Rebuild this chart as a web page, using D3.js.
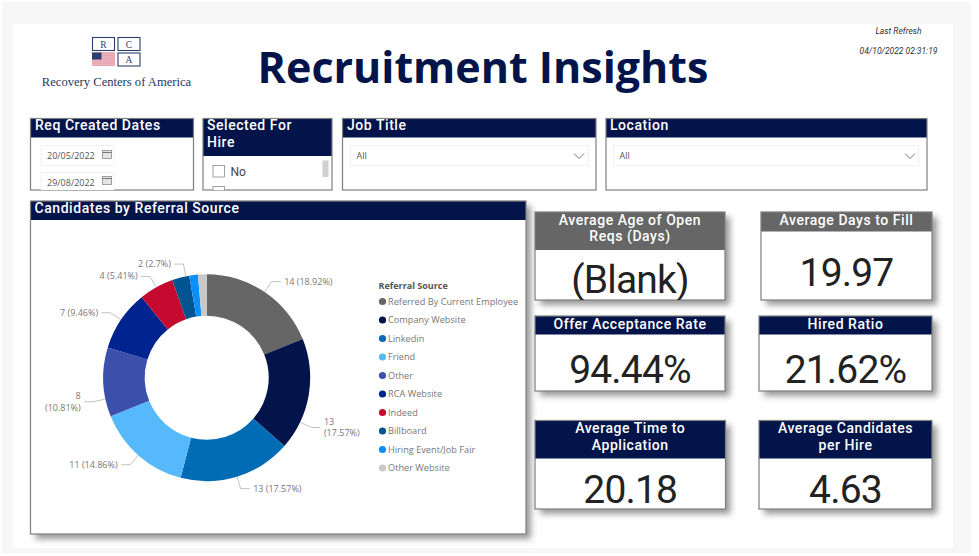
<!DOCTYPE html>
<html>
<head>
<meta charset="utf-8">
<script src="https://cdnjs.cloudflare.com/ajax/libs/d3/7.8.5/d3.min.js"></script>
<style>
html, body { margin: 0; padding: 0; background: #fff; overflow: hidden; }
svg { display: block; }
</style>
</head>
<body>
<script>
const sources = ["Referred By Current Employee", "Company Website", "Linkedin", "Friend", "Other", "RCA Website", "Indeed", "Billboard", "Hiring Event/Job Fair", "Other Website"]
const candidates = [14, 13, 13, 11, 8, 7, 4, 2, 1, 1]
const percents = ["18.92%", "17.57%", "17.57%", "14.86%", "10.81%", "9.46%", "5.41%", "2.7%", "1.35%", "1.35%"]
const sliceColors = ["#666666", "#03144a", "#006cb5", "#56b9fb", "#3b50ab", "#00248f", "#c40a2f", "#005590", "#0a8fff", "#c8c8c8"]

// power bi moves some leader lines off the slice centre (degrees), null = no label
const leaderShift = [0, 15.7, 0, 0, -9.5, 0, 0, 3, null, null]
const wrappedLabels = [false, true, false, false, true, false, false, false, false, false]

const kpiTitles = [["Average Age of Open", "Reqs (Days)"], ["Average Days to Fill"], ["Offer Acceptance Rate"], ["Hired Ratio"], ["Average Time to", "Application"], ["Average Candidates", "per Hire"]]
const kpiValues = ["(Blank)", "19.97", "94.44%", "21.62%", "20.18", "4.63"]

const navy = "#03144a"
const din = "Roboto, sans-serif"

const svg = d3.select("body").append("svg").attr("width", 979).attr("height", 556)
const defs = svg.append("defs")

const shadow = defs.append("filter").attr("id", "shadow")
    .attr("x", "-10%").attr("y", "-10%").attr("width", "125%").attr("height", "125%")
shadow.append("feDropShadow").attr("dx", 5).attr("dy", 5).attr("stdDeviation", 3)
    .attr("flood-color", "#000").attr("flood-opacity", 0.4)

let clipCount = 0

// page background
svg.append("rect").attr("x", 2).attr("y", 2).attr("width", 969).attr("height", 551).attr("fill", "#f7f7f7")
svg.append("rect").attr("x", 13).attr("y", 24).attr("width", 940).attr("height", 524).attr("fill", "#fff")

function panel(x, y, w, h, headH, headColor, shadowed) {
    let g = svg.append("g")
    if (shadowed) {
        g.append("rect").attr("x", x).attr("y", y).attr("width", w).attr("height", h)
            .attr("fill", "#fff").attr("filter", "url(#shadow)")
    }
    g.append("rect").attr("x", x).attr("y", y).attr("width", w).attr("height", h).attr("fill", "#fff")
    g.append("rect").attr("x", x).attr("y", y).attr("width", w).attr("height", headH).attr("fill", headColor)
    g.append("rect").attr("x", x).attr("y", y).attr("width", w).attr("height", h)
        .attr("fill", "none").attr("stroke", "#7f7f7f").attr("stroke-width", 1.2)
    clipCount++
    defs.append("clipPath").attr("id", "clip" + clipCount)
        .append("rect").attr("x", x).attr("y", y).attr("width", w).attr("height", h)
    return g.append("g").attr("clip-path", "url(#clip" + clipCount + ")")
}

function headText(g, x, y, txt, anchor, size) {
    return g.append("text").attr("x", x).attr("y", y).attr("text-anchor", anchor || "start")
        .attr("font-family", din).attr("font-size", size || 14).attr("font-weight", 500)
        .attr("letter-spacing", 0.55).attr("fill", "#fff").text(txt)
}

function inputBox(g, x, y, w, h, txt) {
    g.append("rect").attr("x", x).attr("y", y).attr("width", w).attr("height", h)
        .attr("fill", "#fff").attr("stroke", "#f1f1f1").attr("stroke-width", 1)
    g.append("text").attr("x", x + 6).attr("y", y + h / 2 + 3.5)
        .attr("font-family", "'Open Sans', sans-serif").attr("font-size", 9).attr("fill", "#555").text(txt)
}

function calendar(g, x, y) {
    g.append("rect").attr("x", x).attr("y", y).attr("width", 9).attr("height", 8)
        .attr("fill", "#e4e4e4").attr("stroke", "#8a8a8a").attr("stroke-width", 0.8)
    g.append("line").attr("x1", x).attr("x2", x + 9).attr("y1", y + 2).attr("y2", y + 2)
        .attr("stroke", "#777").attr("stroke-width", 1.2)
}

function chevron(g, x, y) {
    let line = d3.line()
    g.append("path").attr("d", line([[x - 5, y - 2.5], [x, y + 2.5], [x + 5, y - 2.5]]))
        .attr("fill", "none").attr("stroke", "#666").attr("stroke-width", 0.9)
}

// logo
function logoBox(x, y, letter) {
    svg.append("rect").attr("x", x).attr("y", y).attr("width", 22).attr("height", 13)
        .attr("fill", "#fff").attr("stroke", "#2b3f6e").attr("stroke-width", 1.1)
    svg.append("text").attr("x", x + 11).attr("y", y + 10).attr("text-anchor", "middle")
        .attr("font-family", "'Liberation Serif', serif").attr("font-size", 9.5).attr("fill", "#2b3f6e").text(letter)
}
logoBox(92.5, 37.5, "R")
logoBox(118, 37.5, "C")
logoBox(118, 53, "A")
d3.range(7).forEach(i => {
    svg.append("rect").attr("x", 92).attr("y", 52.5 + i * 2).attr("width", 23).attr("height", 1.1).attr("fill", "#d9697f")
})
svg.append("rect").attr("x", 92).attr("y", 52.5).attr("width", 9.5).attr("height", 7).attr("fill", "#2b3f6e")
svg.append("text").attr("x", 116.5).attr("y", 86).attr("text-anchor", "middle")
    .attr("font-family", "'Liberation Serif', serif").attr("font-size", 12.6).attr("fill", "#26375f")
    .text("Recovery Centers of America")

// title
svg.append("text").attr("x", 483).attr("y", 83).attr("text-anchor", "middle")
    .attr("font-family", "'Open Sans', sans-serif").attr("font-size", 43).attr("font-weight", 700)
    .attr("fill", navy).text("Recruitment Insights")

svg.append("text").attr("x", 898.5).attr("y", 34).attr("text-anchor", "middle")
    .attr("font-family", "Roboto, sans-serif").attr("font-style", "italic").attr("font-size", 8.5)
    .attr("fill", "#333").text("Last Refresh")
svg.append("text").attr("x", 898.5).attr("y", 53.5).attr("text-anchor", "middle")
    .attr("font-family", "Roboto, sans-serif").attr("font-style", "italic").attr("font-size", 8.5)
    .attr("fill", "#333").text("04/10/2022 02:31:19")

// slicers
let dates = panel(30.5, 118.5, 163, 71.5, 19, navy)
headText(dates, 35, 130, "Req Created Dates")
inputBox(dates, 41, 145.5, 73, 20, "20/05/2022")
inputBox(dates, 41, 172.5, 73, 20, "29/08/2022")
calendar(dates, 102.5, 150.5)
calendar(dates, 102.5, 176.5)

let hire = panel(203, 118.5, 129, 71.5, 37.5, navy)
headText(hire, 207, 130, "Selected For")
headText(hire, 207, 146.5, "Hire")
hire.append("rect").attr("x", 213).attr("y", 165.5).attr("width", 11.5).attr("height", 11.5)
    .attr("fill", "#fff").attr("stroke", "#8a8a8a").attr("stroke-width", 0.8)
hire.append("rect").attr("x", 213).attr("y", 186.5).attr("width", 11.5).attr("height", 11.5)
    .attr("fill", "#fff").attr("stroke", "#8a8a8a").attr("stroke-width", 0.8)
hire.append("text").attr("x", 230.5).attr("y", 176).attr("font-family", din).attr("font-size", 12)
    .attr("fill", "#444").text("No")
hire.append("rect").attr("x", 322.5).attr("y", 160.5).attr("width", 6).attr("height", 16.5).attr("fill", "#d0d0d0")

let job = panel(342.5, 118.5, 253.5, 71.5, 19, navy)
headText(job, 347, 130, "Job Title")
inputBox(job, 350.5, 145.5, 238, 20, "All")
chevron(job, 579, 156)

let loc = panel(606, 118.5, 321, 71.5, 19, navy)
headText(loc, 610, 130, "Location")
inputBox(loc, 613.5, 145.5, 305, 20, "All")
chevron(loc, 910, 156)

// donut panel
let main = panel(30.5, 201, 495.5, 333, 19, navy, true)
headText(main, 34.5, 213, "Candidates by Referral Source")

const cx = 206.7, cy = 377.7
const outerR = 103.5, innerR = 62, elbowR = 116
const rad = Math.PI / 180

const pie = d3.pie().sort(null).value((d, i) => candidates[i])
const arc = d3.arc().innerRadius(innerR).outerRadius(outerR)
const slices = pie(sources)

const donut = main.append("g").attr("transform", `translate(${cx},${cy})`)
donut.selectAll("path").data(slices).enter().append("path")
    .attr("d", arc)
    .attr("fill", (d, i) => sliceColors[i])

const polar = (r, a) => [r * Math.sin(a), -r * Math.cos(a)]

slices.forEach((d, i) => {
    if (leaderShift[i] === null) return
    let a = (d.startAngle + d.endAngle) / 2 + leaderShift[i] * rad
    let p0 = polar(outerR, a)
    let p1 = polar(elbowR, a)
    let dir = Math.sin(a) > 0 ? 1 : -1
    let p2 = [p1[0] + dir * 9, p1[1]]
    donut.append("path").attr("d", d3.line()([p0, p1, p2]))
        .attr("fill", "none").attr("stroke", "#b3b3b3").attr("stroke-width", 0.8)

    let label = donut.append("text")
        .attr("text-anchor", dir > 0 ? "start" : "end")
        .attr("font-family", "'Open Sans', sans-serif").attr("font-size", 9)
        .attr("fill", "#777")
    let tx = p2[0] + dir * 3.5
    if (wrappedLabels[i]) {
        label.append("tspan").attr("x", tx).attr("y", p2[1] - 2.8).text(candidates[i])
        label.append("tspan").attr("x", tx).attr("y", p2[1] + 9).text(`(${percents[i]})`)
    } else {
        label.attr("x", tx).attr("y", p2[1] + 3).text(`${candidates[i]} (${percents[i]})`)
    }
})

// legend
const legendY = d3.scalePoint().domain(sources).range([301.5, 468])
main.append("text").attr("x", 378.5).attr("y", 289)
    .attr("font-family", "'Open Sans', sans-serif").attr("font-size", 9).attr("font-weight", 700)
    .attr("fill", "#555").text("Referral Source")
const legend = main.selectAll(".legend").data(sources).enter().append("g").attr("class", "legend")
legend.append("circle").attr("cx", 382.5).attr("cy", d => legendY(d)).attr("r", 3.6)
    .attr("fill", (d, i) => sliceColors[i])
legend.append("text").attr("x", 388).attr("y", d => legendY(d) + 3.2)
    .attr("font-family", "'Open Sans', sans-serif").attr("font-size", 9.2)
    .attr("fill", "#777").text(d => d)

// kpi cards
function kpi(i, x, y, w, h, headH, color, valueY) {
    let g = panel(x, y, w, h, headH, color, true)
    let mid = x + w / 2
    kpiTitles[i].forEach((t, j) => headText(g, mid, y + 12.5 + j * 16.5, t, "middle"))
    g.append("text").attr("x", mid).attr("y", valueY).attr("text-anchor", "middle")
        .attr("font-family", din).attr("font-size", 39).attr("letter-spacing", -0.8)
        .attr("fill", "#222").text(kpiValues[i])
}

kpi(0, 535, 212, 190, 88, 38, "#666666", 293)
kpi(1, 761, 212, 171, 88, 19.5, "#666666", 286)
kpi(2, 535, 316, 190, 75, 18.5, navy, 383)
kpi(3, 759, 316, 173, 75, 18.5, navy, 383)
kpi(4, 535, 420.5, 190.5, 88.5, 38, navy, 503)
kpi(5, 759, 420.5, 173, 88.5, 38, navy, 503)
</script>
</body>
</html>
